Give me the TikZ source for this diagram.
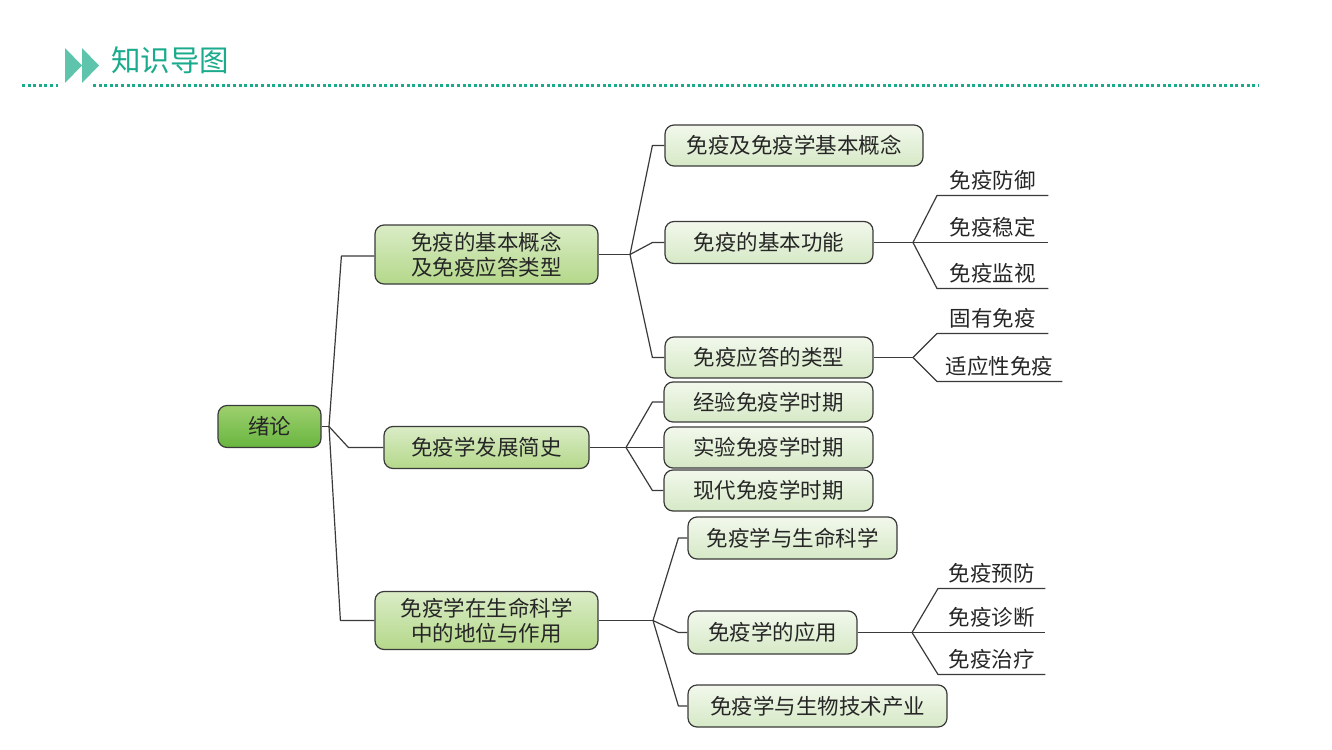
\documentclass[tikz,border=0pt]{standalone}
\usepackage{fontspec}
\setmainfont{Noto Sans CJK SC}
\usetikzlibrary{calc}
\definecolor{teal1}{HTML}{1AAB8C}
\definecolor{teal2}{HTML}{5EC4AC}
\definecolor{edge}{HTML}{3A3A3A}
\tikzset{
  x=1pt, y=-1pt,
  box/.style={draw=edge, line width=1.2pt, rounded corners=9pt, inner sep=0pt,
    align=center, font=\fontsize{21.5}{25}\selectfont, text=black!85},
  rootbox/.style={box, top color={rgb,255:red,158;green,208;blue,110}, bottom color={rgb,255:red,104;green,181;blue,64}},
  lvone/.style={box, top color={rgb,255:red,218;green,236;blue,198}, bottom color={rgb,255:red,180;green,216;blue,138}},
  lvtwo/.style={box, top color={rgb,255:red,242;green,248;blue,236}, bottom color={rgb,255:red,214;green,233;blue,198}},
  leaf/.style={inner sep=0pt, minimum height=30pt, anchor=south west, font=\fontsize{21.5}{25}\selectfont, text=black!85},
  conn/.style={draw=edge, line width=1.2pt, line join=round},
  dots/.style={draw=teal1, line width=3pt, dash pattern=on 3pt off 2.6pt}
}
\begin{document}
\begin{tikzpicture}
\useasboundingbox (0,0) rectangle (1332,749);
% header
\fill[teal2] (65,48) -- (82,65.5) -- (65,83) -- cycle;
\fill[teal2] (82,48) -- (99,65.5) -- (82,83) -- cycle;
\node[anchor=west, inner sep=0pt, text=teal1, font=\fontsize{29.5}{32}\selectfont] (title) at (111,60) {知识导图};
\coordinate (d1) at (22,85.5);
\coordinate (d2) at (58,85.5);
\coordinate (d3) at (93,85.5);
\coordinate (d4) at (1259,85.5);
\draw[dots] (d1) -- (d2);
\draw[dots] (d3) -- (d4);

% root
\node[rootbox, minimum width=103pt, minimum height=42pt] (R) at (269.5,426.5) {绪论};
% level 1
\node[lvone, minimum width=223pt, minimum height=59pt] (P1) at (486.5,254.5) {免疫的基本概念\\及免疫应答类型};
\node[lvone, minimum width=205pt, minimum height=42pt] (P2) at (486.5,447.5) {免疫学发展简史};
\node[lvone, minimum width=223pt, minimum height=58pt] (P3) at (486.5,620.5) {免疫学在生命科学\\中的地位与作用};
% level 2
\node[lvtwo, minimum width=258pt, minimum height=41pt] (A1) at (794,145.5) {免疫及免疫学基本概念};
\node[lvtwo, minimum width=208pt, minimum height=42pt] (A2) at (769,242.5) {免疫的基本功能};
\node[lvtwo, minimum width=208pt, minimum height=41pt] (A3) at (769,357.5) {免疫应答的类型};
\node[lvtwo, minimum width=209pt, minimum height=40pt] (B1) at (768.5,402) {经验免疫学时期};
\node[lvtwo, minimum width=209pt, minimum height=41pt] (B2) at (768.5,447.5) {实验免疫学时期};
\node[lvtwo, minimum width=209pt, minimum height=41pt] (B3) at (768.5,490.5) {现代免疫学时期};
\node[lvtwo, minimum width=209pt, minimum height=42pt] (C1) at (792.5,538) {免疫学与生命科学};
\node[lvtwo, minimum width=169pt, minimum height=43pt] (C2) at (772.5,632.5) {免疫学的应用};
\node[lvtwo, minimum width=259pt, minimum height=42pt] (C3) at (817.5,706) {免疫学与生物技术产业};
% leaves
\node[leaf, minimum width=111pt] (L1) at (937,195.5) {免疫防御};
\node[leaf, minimum width=111pt] (L2) at (937,242.5) {免疫稳定};
\node[leaf, minimum width=111pt] (L3) at (937,288.5) {免疫监视};
\node[leaf, minimum width=111pt] (L4) at (937,333.5) {固有免疫};
\node[leaf, minimum width=125pt] (L5) at (937,381.5) {适应性免疫};
\node[leaf, minimum width=107pt] (L6) at (938,588.5) {免疫预防};
\node[leaf, minimum width=107pt] (L7) at (938,632.5) {免疫诊断};
\node[leaf, minimum width=107pt] (L8) at (938,674.5) {免疫治疗};

% branch points
\coordinate (bR) at (329,426.5);
\coordinate (bA) at (630,254.5);
\coordinate (bB) at (626,447.5);
\coordinate (bC) at (653,620.5);
\coordinate (bF) at (913,242.5);
\coordinate (bG) at (913,357.5);
\coordinate (bH) at (912,632.5);

% connectors root
\draw[conn] (R.east) -- (bR);
\draw[conn] (bR) -- ($(P1.west)+(-33,1.5)$) -- ($(P1.west)+(0,1.5)$);
\draw[conn] (bR) -- ($(P2.west)+(-35,0)$) -- (P2.west);
\draw[conn] (bR) -- ($(P3.west)+(-34,0)$) -- (P3.west);
% P1
\draw[conn] (P1.east) -- (bA);
\draw[conn] (bA) -- ($(A1.west)+(-12,0)$) -- (A1.west);
\draw[conn] (bA) -- ($(A2.west)+(-12,0)$) -- (A2.west);
\draw[conn] (bA) -- ($(A3.west)+(-12,0)$) -- (A3.west);
% P2
\draw[conn] (P2.east) -- (bB);
\draw[conn] (bB) -- ($(B1.west)+(-11,0)$) -- (B1.west);
\draw[conn] (bB) -- (B2.west);
\draw[conn] (bB) -- ($(B3.west)+(-11,0)$) -- (B3.west);
% P3
\draw[conn] (P3.east) -- (bC);
\draw[conn] (bC) -- ($(C1.west)+(-9,0)$) -- (C1.west);
\draw[conn] (bC) -- ($(C2.west)+(-9,0)$) -- (C2.west);
\draw[conn] (bC) -- ($(C3.west)+(-9,0)$) -- (C3.west);
% leaves
\draw[conn] (A2.east) -- (bF);
\draw[conn] (bF) -- (L1.south west) -- (L1.south east);
\draw[conn] (bF) -- (L2.south west) -- (L2.south east);
\draw[conn] (bF) -- (L3.south west) -- (L3.south east);
\draw[conn] (A3.east) -- (bG);
\draw[conn] (bG) -- (L4.south west) -- (L4.south east);
\draw[conn] (bG) -- (L5.south west) -- (L5.south east);
\draw[conn] (C2.east) -- (bH);
\draw[conn] (bH) -- (L6.south west) -- (L6.south east);
\draw[conn] (bH) -- (L7.south west) -- (L7.south east);
\draw[conn] (bH) -- (L8.south west) -- (L8.south east);
\end{tikzpicture}
\end{document}
